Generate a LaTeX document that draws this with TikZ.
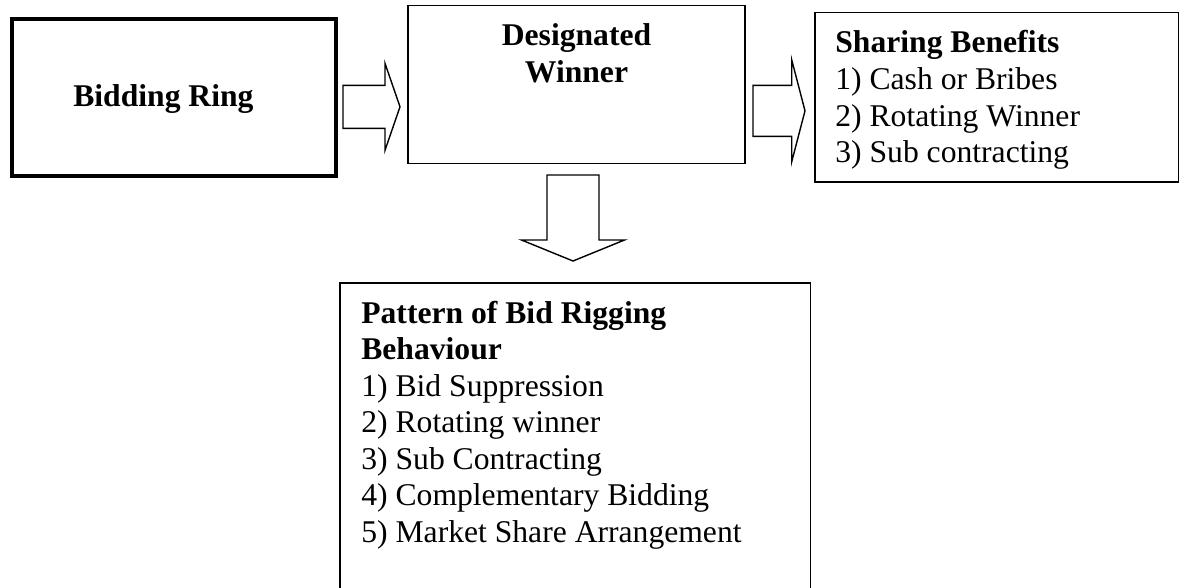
\documentclass[tikz,border=0pt]{standalone}
\usepackage{fontspec}
\setmainfont{Liberation Serif}
\usetikzlibrary{calc}

\tikzset{
  box/.style={draw, line width=0.8pt, inner sep=0pt},
  txt/.style={inner sep=0pt, font=\fontsize{18}{20.8}\selectfont},
  blk/.style={draw, line width=0.8pt, line join=miter},
}

\newcommand{\blockright}[5]{%
  \draw[blk] ($(#1)+(0,-#3)$) -- ($(#2)+(-#5,-#3)$) -- ($(#2)+(-#5,-#4)$) -- (#2)
    -- ($(#2)+(-#5,#4)$) -- ($(#2)+(-#5,#3)$) -- ($(#1)+(0,#3)$) -- cycle;}
\newcommand{\blockdown}[5]{%
  \draw[blk] ($(#1)+(-#3,0)$) -- ($(#2)+(-#3,-#5)$) -- ($(#2)+(-#4,-#5)$) -- (#2)
    -- ($(#2)+(#4,-#5)$) -- ($(#2)+(#3,-#5)$) -- ($(#1)+(#3,0)$) -- cycle;}

\begin{document}
\begin{tikzpicture}[x=0.02cm, y=-0.02cm]
    \useasboundingbox (0,0) rectangle (1180,588);
    \node[box, line width=2.2pt, minimum width=6.48cm, minimum height=3.14cm] (ring) at (174,97.5) {};
    \node[box, minimum width=6.74cm, minimum height=3.16cm] (winner) at (576.5,84.3) {};
    \node[box, minimum width=7.27cm, minimum height=3.39cm] (share) at (996.8,97.2) {};
    \node[box, minimum width=9.41cm, minimum height=6.74cm] (pattern) at (575.3,451.5) {};
    \node[txt, anchor=base west] (ringtxt) at (73,107) {\textbf{Bidding Ring}};
    \node[txt, anchor=base] (winnertxt) at (576.5,46)
        {\begin{tabular}[t]{@{}c@{}}\textbf{Designated}\\\textbf{Winner}\end{tabular}};
    \node[txt, anchor=base west] (sharetxt) at (835,53)
        {\begin{tabular}[t]{@{}l@{}}\textbf{Sharing Benefits}\\1) Cash or Bribes\\2) Rotating Winner\\3) Sub contracting\end{tabular}};
    \node[txt, anchor=base west] (patterntxt) at (361,323)
        {\begin{tabular}[t]{@{}l@{}}\textbf{Pattern of Bid Rigging}\\\textbf{Behaviour}\\1) Bid Suppression\\2) Rotating winner\\3) Sub Contracting\\4) Complementary Bidding\\5) Market Share Arrangement\end{tabular}};
    \coordinate (a1s) at (343,106.8);
    \coordinate (a1e) at (400,106.8);
    \coordinate (a2s) at (753,110.8);
    \coordinate (a2e) at (805,110.8);
    \coordinate (a3s) at (573,175);
    \coordinate (a3e) at (573,261);
    \blockright{a1s}{a1e}{21.5}{43.5}{15}
    \blockright{a2s}{a2e}{25.5}{51}{13.3}
    \blockdown{a3s}{a3e}{26}{51.5}{21}
\end{tikzpicture}
\end{document}
